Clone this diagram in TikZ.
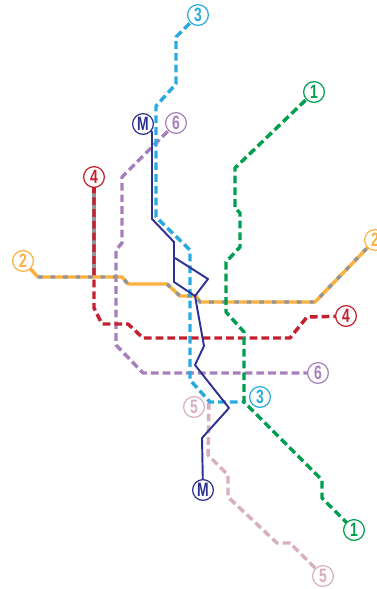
\documentclass[tikz,border=0pt]{standalone}
\usepackage{fontspec}
\setmainfont{Liberation Sans}
\definecolor{cyanl}{HTML}{29ABE2}
\definecolor{greenl}{HTML}{009E4F}
\definecolor{orangel}{HTML}{FBB040}
\definecolor{redl}{HTML}{C4202F}
\definecolor{purplel}{HTML}{A77FBD}
\definecolor{pinkl}{HTML}{D8AFC0}
\definecolor{navyl}{HTML}{2E3192}
\definecolor{grayl}{HTML}{939598}
\newcommand{\lbl}[1]{\scalebox{0.72}[1]{\textbf{#1}}}
\tikzset{
  x=0.75pt,y=-0.75pt,
  stn/.style={circle,draw=#1,text=#1,fill=white,line width=0.9pt,minimum size=15.6pt,inner sep=0pt,font=\fontsize{14.5}{14.5}\selectfont},
  dashline/.style={draw=#1,line width=2.6pt,dash pattern=on 5.8pt off 3pt,line join=round},
  solidline/.style={draw=#1,line width=2.6pt,line join=round},
  metro/.style={draw=navyl,line width=1.45pt,line join=round},
}
\begin{document}
\begin{tikzpicture}
\useasboundingbox (0,0) rectangle (377,589);
\coordinate (e3) at (245,402);
\coordinate (s5) at (209,402);
\coordinate (a1) at (314,92);
\coordinate (b1) at (354,530);
\coordinate (a2) at (23,261);
\coordinate (b2) at (375,240);
\coordinate (a3) at (198,15);
\coordinate (b3) at (260,397);
\coordinate (a4) at (94,177);
\coordinate (b4) at (346,316);
\coordinate (b5) at (194,407);
\coordinate (c5) at (323,576);
\coordinate (a6) at (176,123);
\coordinate (b6) at (318,373);
\coordinate (am) at (143,124);
\coordinate (bm) at (203,490);
\coordinate (j1) at (195,296);
\coordinate (j2) at (175,258);
% line 5
\draw[dashline=pinkl] (s5) -- (208,455) -- (228,475) -- (228,497) -- (277,543) -- (290,543) -- (c5);
% line 4 grey underlay
\draw[solidline=grayl] (a4) -- (94,277);
% line 6
\draw[dashline=purplel] (a6) -- (122,177) -- (122,243) -- (116,250) -- (116,345) -- (143,373) -- (b6);
% line 4
\draw[dashline=redl,dash phase=1pt] (94,187) -- (94,308) -- (102,324) -- (128,324) -- (143,338) -- (290,338) -- (307,317) -- (b4);
\draw[solidline=redl] (a4) -- (94,193);
% line 2
\draw[solidline=orangel] (a2) -- (38,277) -- (122,277) -- (128,284) -- (167,284) -- (180,296) -- (196,296) -- (200,302) -- (315,302) -- (b2);
\draw[dashline=grayl,dash pattern=on 3.4pt off 6pt] (38,277) -- (122,277) -- (128,284);
\draw[dashline=grayl,dash pattern=on 3.4pt off 6pt] (167,284) -- (180,296) -- (196,296) -- (200,302) -- (315,302) -- (367,248);
% line 3
\draw[dashline=cyanl] (a3) -- (176,37) -- (176,84) -- (156,106) -- (156,217) -- (190,250) -- (190,380) -- (210,402) -- (e3);
% line 1
\draw[dashline=greenl] (a1) -- (235,168) -- (235,208) -- (240,213) -- (240,247) -- (226,262) -- (226,312) -- (244,332) -- (244,402) -- (322,480) -- (322,498) -- (b1);
% metro
\draw[metro] (am) -- (152,132) -- (152,219) -- (174,242) -- (174,282) -- (j1) -- (208,279) -- (j2);
\draw[metro] (j1) -- (204,346) -- (195,365) -- (229,408) -- (202,438) -- (bm);
% station signs
\node[stn=greenl] (n1a) at (a1) {\lbl{1}};
\node[stn=greenl] (n1b) at (b1) {\lbl{1}};
\node[stn=orangel] (n2a) at (a2) {\lbl{2}};
\node[stn=orangel] (n2b) at (b2) {\lbl{2}};
\node[stn=cyanl] (n3a) at (a3) {\lbl{3}};
\node[stn=cyanl] (n3b) at (b3) {\lbl{3}};
\node[stn=redl] (n4a) at (a4) {\lbl{4}};
\node[stn=redl] (n4b) at (b4) {\lbl{4}};
\node[stn=pinkl] (n5b) at (b5) {\lbl{5}};
\node[stn=pinkl] (n5c) at (c5) {\lbl{5}};
\node[stn=purplel] (n6a) at (a6) {\lbl{6}};
\node[stn=purplel] (n6b) at (b6) {\lbl{6}};
\node[stn=navyl] (nma) at (am) {\lbl{M}};
\node[stn=navyl] (nmb) at (bm) {\lbl{M}};
\end{tikzpicture}
\end{document}
